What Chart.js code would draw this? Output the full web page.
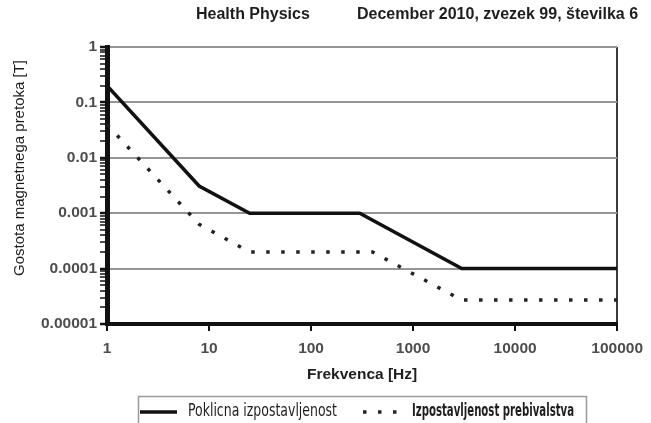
<!DOCTYPE html>
<html>
<head>
<meta charset="utf-8">
<script src="https://cdn.jsdelivr.net/npm/chart.js@4.4.1/dist/chart.umd.min.js"></script>
<style>
  html, body { margin: 0; padding: 0; background: #fff; }
</style>
</head>
<body>
<canvas id="chart" width="651" height="423"></canvas>
<script>
// limits: frequency [Hz] -> flux density [T]
const occFreq = [1, 8, 25, 300, 3000, 100000];
const occField = [0.2, 0.0031, 0.001, 0.001, 0.0001, 0.0001];
const pubFreq = [1, 8, 25, 400, 3000, 100000];
const pubField = [0.04, 0.00063, 0.0002, 0.0002, 0.000027, 0.000027];

const seriesNames = ['Poklicna izpostavljenost', 'Izpostavljenost prebivalstva'];
const xTicks = [1, 10, 100, 1000, 10000, 100000];
const xTickLabels = ['1', '10', '100', '1000', '10000', '100000'];
const yTicks = [0.00001, 0.0001, 0.001, 0.01, 0.1, 1];
const yTickLabels = ['0.00001', '0.0001', '0.001', '0.01', '0.1', '1'];

const headerLeft = 'Health Physics';
const headerRight = 'December 2010, zvezek 99, številka 6';
const xTitle = 'Frekvenca [Hz]';
const yTitle = 'Gostota magnetnega pretoka [T]';

const SANS = '"Liberation Sans", Arial, sans-serif';
const NARROW = '"Liberation Sans Narrow", "DejaVu Sans Condensed", "Liberation Sans", Arial, sans-serif';

function toPoints(xs, ys) {
  return xs.map((x, i) => ({ x: x, y: ys[i] }));
}

// squeeze a string into a given width (the source uses a condensed face)
function fitText(ctx, text, x, y, width) {
  const w = ctx.measureText(text).width;
  ctx.save();
  ctx.translate(x, y);
  ctx.scale(width / w, 1);
  ctx.fillText(text, 0, 0);
  ctx.restore();
}

const extras = {
  id: 'extras',
  afterDraw(chart) {
    const ctx = chart.ctx;
    const ds = chart.data.datasets;

    ctx.save();
    ctx.fillStyle = '#1e1e1e';
    ctx.textBaseline = 'middle';
    ctx.font = 'bold 16px ' + SANS;
    ctx.fillText(headerLeft, 196, 15);
    ctx.fillText(headerRight, 357, 15);

    // y axis title
    ctx.save();
    ctx.translate(20, 168);
    ctx.rotate(-Math.PI / 2);
    ctx.textAlign = 'center';
    ctx.font = '15px ' + SANS;
    ctx.fillText(yTitle, 0, 0);
    ctx.restore();

    // legend box
    ctx.strokeStyle = '#9a9a9a';
    ctx.lineWidth = 1.5;
    ctx.strokeRect(138.5, 396.5, 448, 40);

    const ly = 412;
    ctx.lineCap = 'butt';
    ctx.strokeStyle = ds[0].borderColor;
    ctx.lineWidth = ds[0].borderWidth;
    ctx.beginPath();
    ctx.moveTo(140, ly);
    ctx.lineTo(177, ly);
    ctx.stroke();

    ctx.strokeStyle = ds[1].borderColor;
    ctx.lineWidth = ds[1].borderWidth;
    ctx.setLineDash(ds[1].borderDash);
    ctx.beginPath();
    ctx.moveTo(363, ly);
    ctx.lineTo(402, ly);
    ctx.stroke();
    ctx.setLineDash([]);

    ctx.fillStyle = '#1e1e1e';
    ctx.font = '17px ' + NARROW;
    fitText(ctx, seriesNames[0], 188, ly, 149);
    ctx.font = 'bold 17px ' + NARROW;
    fitText(ctx, seriesNames[1], 412, ly, 162);
    ctx.restore();
  }
};

new Chart(document.getElementById('chart'), {
  type: 'line',
  data: {
    datasets: [
      {
        label: seriesNames[0],
        data: toPoints(occFreq, occField),
        borderColor: '#111111',
        borderWidth: 3.5,
        borderCapStyle: 'butt',
        pointRadius: 0,
        tension: 0
      },
      {
        label: seriesNames[1],
        data: toPoints(pubFreq, pubField),
        borderColor: '#222222',
        borderWidth: 3.5,
        borderDash: [3.5, 11.5],
        borderCapStyle: 'butt',
        pointRadius: 0,
        tension: 0
      }
    ]
  },
  options: {
    responsive: false,
    animation: false,
    events: [],
    layout: { padding: { left: 0, top: 47, right: 29, bottom: 0 } },
    plugins: {
      legend: { display: false },
      tooltip: { enabled: false }
    },
    scales: {
      x: {
        type: 'logarithmic',
        min: 1,
        max: 100000,
        afterBuildTicks: (scale) => {
          scale.ticks = xTicks.map(v => ({ value: v }));
        },
        afterFit: (scale) => { scale.height = 99; },
        ticks: {
          autoSkip: false,
          maxRotation: 0,
          padding: 8,
          color: '#4d4d4d',
          font: { family: SANS, size: 15.5, weight: 'bold' },
          callback: (v) => {
            const i = xTicks.indexOf(v);
            return i >= 0 ? xTickLabels[i] : '';
          }
        },
        grid: {
          // only the last vertical line is kept: it is the right frame of the plot
          color: (c) => (c.tick && c.tick.value === 100000) ? '#3a3a3a' : 'rgba(0,0,0,0)',
          lineWidth: 2,
          tickLength: 7,
          tickColor: '#111111',
          tickWidth: 2
        },
        border: { color: '#111111', width: 4 },
        title: {
          display: true,
          text: xTitle,
          color: '#1e1e1e',
          font: { family: SANS, size: 15.5, weight: 'bold' },
          padding: { top: 0, bottom: 39 }
        }
      },
      y: {
        type: 'logarithmic',
        min: 0.00001,
        max: 1,
        afterBuildTicks: (scale) => {
          const t = [];
          yTicks.forEach((d, k) => {
            t.push({ value: d, major: true });
            if (k < yTicks.length - 1) {
              for (let m = 2; m <= 9; m++) t.push({ value: m * d, major: false });
            }
          });
          scale.ticks = t;
        },
        afterFit: (scale) => { scale.width = 107; },
        ticks: {
          autoSkip: false,
          padding: 3,
          color: '#4d4d4d',
          font: { family: SANS, size: 15.5, weight: 'bold' },
          callback: (v) => {
            const i = yTicks.indexOf(v);
            return i >= 0 ? yTickLabels[i] : '';
          }
        },
        grid: {
          color: (c) => (c.tick && c.tick.major) ? '#959595' : 'rgba(0,0,0,0)',
          lineWidth: 2,
          tickLength: 7,
          tickColor: '#111111',
          tickWidth: (c) => (c.tick && c.tick.major) ? 2.5 : 1.5
        },
        border: { color: '#111111', width: 5 }
      }
    }
  },
  plugins: [extras]
});
</script>
</body>
</html>
